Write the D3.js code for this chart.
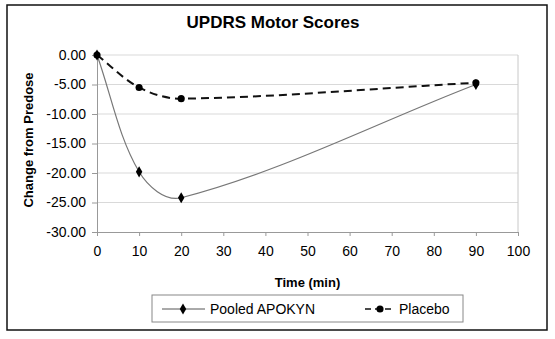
<!DOCTYPE html>
<html><head><meta charset="utf-8">
<script src="https://cdn.jsdelivr.net/npm/d3@7"></script>
<style>
body{margin:0;background:#fff;}
text{font-family:"Liberation Sans",Arial,sans-serif;fill:#000;}
</style></head>
<body>
<svg id="c" width="555" height="339"></svg>
<script>
const times = [0, 10, 20, 90];
const apokyn = [0, -19.8, -24.2, -5.0];
const placebo = [0, -5.5, -7.4, -4.7];
const xTicks = [0,10,20,30,40,50,60,70,80,90,100];
const yTicks = [0,-5,-10,-15,-20,-25,-30];
const seriesNames = ["Pooled APOKYN", "Placebo"];

const svg = d3.select("#c");
svg.append("rect").attr("x",7).attr("y",5).attr("width",540).attr("height",325)
  .attr("fill","#fff").attr("stroke","#111").attr("stroke-width",1.5);

const x = d3.scaleLinear().domain([0,100]).range([97,518]);
const y = d3.scaleLinear().domain([-30,0]).range([232,55]);

// gridlines
svg.append("g").selectAll("line").data(yTicks.filter(d=>d>-30)).join("line")
  .attr("x1",x(0)).attr("x2",x(100)).attr("y1",d=>y(d)).attr("y2",d=>y(d))
  .attr("stroke","#d9d9d9").attr("stroke-width",1);
svg.append("line").attr("x1",x(100)).attr("x2",x(100)).attr("y1",y(0)).attr("y2",y(-30))
  .attr("stroke","#c8c8c8");

const yAxis = svg.append("g").attr("transform",`translate(${x(0)},0)`)
  .call(d3.axisLeft(y).tickValues(yTicks).tickFormat(d3.format(".2f")).tickSize(5).tickPadding(6));
const xAxis = svg.append("g").attr("transform",`translate(0,${y(-30)})`)
  .call(d3.axisBottom(x).tickValues(xTicks).tickSize(4).tickPadding(10));
[yAxis,xAxis].forEach(g=>{
  g.select(".domain").attr("stroke","#999");
  g.selectAll(".tick line").attr("stroke","#999");
  g.selectAll(".tick text").attr("font-size",14).attr("font-family","Liberation Sans, Arial, sans-serif").attr("fill","#000");
});
yAxis.selectAll(".tick text").text(d=>d===0?"0.00":d3.format(".2f")(d).replace("−","-"));

// Excel-like smoothed line: tangent direction from neighbours, control distance = segment/3
const pts = s => times.map((t,i)=>[x(t),y(s[i])]);
function smooth(p){
  const n=p.length, path=d3.path();
  const dir=i=>{
    const a=p[Math.max(0,i-1)], b=p[Math.min(n-1,i+1)];
    const dx=b[0]-a[0], dy=b[1]-a[1], L=Math.hypot(dx,dy)||1;
    return [dx/L,dy/L];
  };
  path.moveTo(p[0][0],p[0][1]);
  for(let i=0;i<n-1;i++){
    const a=p[i], b=p[i+1];
    const L=Math.hypot(b[0]-a[0],b[1]-a[1])/3;
    const da=dir(i), db=dir(i+1);
    path.bezierCurveTo(a[0]+da[0]*L,a[1]+da[1]*L,b[0]-db[0]*L,b[1]-db[1]*L,b[0],b[1]);
  }
  return path.toString();
}
svg.append("path").attr("d",smooth(pts(placebo)))
  .attr("fill","none").attr("stroke","#111").attr("stroke-width",2).attr("stroke-dasharray","8,5");
svg.append("path").attr("d",smooth(pts(apokyn)))
  .attr("fill","none").attr("stroke","#777").attr("stroke-width",1.2);

const diamond = d3.symbol().type(d3.symbolDiamond).size(36);
const circle = d3.symbol().type(d3.symbolCircle).size(40);
svg.append("g").selectAll("path").data(pts(apokyn)).join("path")
  .attr("d",diamond).attr("transform",d=>`translate(${d[0]},${d[1]})`).attr("fill","#000");
svg.append("g").selectAll("path").data(pts(placebo)).join("path")
  .attr("d",circle).attr("transform",d=>`translate(${d[0]},${d[1]})`).attr("fill","#000");

// titles
svg.append("text").attr("x",273).attr("y",28).attr("text-anchor","middle")
  .attr("font-size",17).attr("font-weight","bold").text("UPDRS Motor Scores");
svg.append("text").attr("transform","translate(33,140) rotate(-90)").attr("text-anchor","middle")
  .attr("font-size",13).attr("font-weight","bold").text("Change from Predose");
svg.append("text").attr("x",307.5).attr("y",287).attr("text-anchor","middle")
  .attr("font-size",13).attr("font-weight","bold").text("Time (min)");

// legend
svg.append("rect").attr("x",152).attr("y",295).attr("width",311).attr("height",27)
  .attr("fill","#fff").attr("stroke","#888");
svg.append("line").attr("x1",162).attr("x2",205).attr("y1",309).attr("y2",309).attr("stroke","#555").attr("stroke-width",1);
svg.append("path").attr("d",diamond).attr("transform","translate(183,309)").attr("fill","#000");
svg.append("text").attr("x",210).attr("y",314).attr("font-size",14).text(seriesNames[0]);
svg.append("line").attr("x1",365).attr("x2",395).attr("y1",309).attr("y2",309).attr("stroke","#111").attr("stroke-width",1.5).attr("stroke-dasharray","6,4");
svg.append("path").attr("d",circle).attr("transform","translate(380,309)").attr("fill","#000");
svg.append("text").attr("x",399).attr("y",314).attr("font-size",14).text(seriesNames[1]);
</script>
</body></html>
